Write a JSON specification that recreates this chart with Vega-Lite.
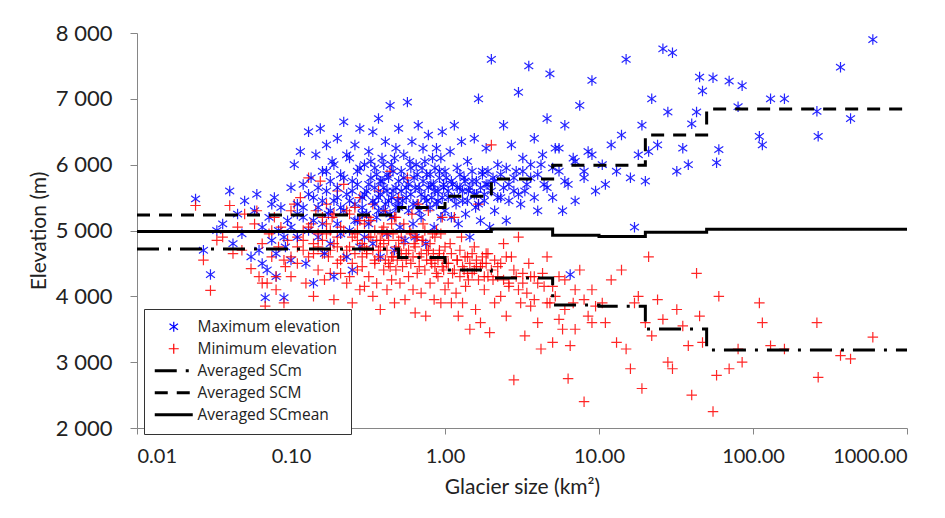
{
  "$schema": "https://vega.github.io/schema/vega-lite/v6.json",
  "width": 770,
  "height": 395,
  "autosize": {"type": "none"},
  "padding": {"left": 137, "top": 33, "right": 38, "bottom": 90},
  "background": "white",
  "config": {
    "view": {"stroke": null},
    "font": "Lato",
    "axis": {"grid": false, "domainColor": "#868686", "tickColor": "#868686", "labelColor": "#222", "titleColor": "#222", "labelFont": "Lato", "titleFont": "Lato", "titleFontWeight": "normal"}
  },
  "datasets": {
    "g": [
      {"a":0.024,"max":5480,"min":5380},{"a":0.027,"max":4700,"min":4550},{"a":0.03,"max":4330,"min":4090},{"a":0.033,"max":5000,"min":4850},
      {"a":0.036,"max":5100,"min":4900},{"a":0.04,"max":5600,"min":5380},{"a":0.042,"max":4800,"min":4650},{"a":0.045,"max":5250,"min":5050},
      {"a":0.048,"max":4950,"min":4700},{"a":0.05,"max":5450,"min":5250},{"a":0.055,"max":4600,"min":4420},{"a":0.058,"max":5300,"min":5100},
      {"a":0.06,"max":5550,"min":5300},{"a":0.062,"max":4700,"min":4300},{"a":0.065,"max":5050,"min":4800},{"a":0.068,"max":3980,"min":3850},
      {"a":0.07,"max":4400,"min":4200},{"a":0.072,"max":5200,"min":4950},{"a":0.075,"max":4850,"min":4600},{"a":0.078,"max":5500,"min":5200},
      {"a":0.08,"max":4300,"min":4100},{"a":0.083,"max":5000,"min":4750},{"a":0.086,"max":5350,"min":5050},{"a":0.09,"max":3980,"min":3900},
      {"a":0.092,"max":4750,"min":4450},{"a":0.095,"max":5150,"min":4850},{"a":0.1,"max":4550,"min":4300},{"a":0.1,"max":5650,"min":5300},
      {"a":0.105,"max":6000,"min":5400},{"a":0.11,"max":5400,"min":4900},{"a":0.11,"max":4900,"min":4500},{"a":0.115,"max":6200,"min":5500},
      {"a":0.12,"max":5200,"min":4700},{"a":0.12,"max":5700,"min":5000},{"a":0.125,"max":4500,"min":4200},{"a":0.13,"max":6500,"min":5800},
      {"a":0.13,"max":5000,"min":4600},{"a":0.135,"max":5800,"min":5100},{"a":0.14,"max":4200,"min":4000},{"a":0.14,"max":5500,"min":4800},
      {"a":0.145,"max":6150,"min":5300},{"a":0.15,"max":4900,"min":4400},{"a":0.15,"max":5350,"min":4750},{"a":0.155,"max":6550,"min":5750},
      {"a":0.16,"max":5100,"min":4650},{"a":0.16,"max":5900,"min":5200},{"a":0.165,"max":4650,"min":4250},{"a":0.17,"max":5600,"min":4950},
      {"a":0.17,"max":6300,"min":5400},{"a":0.175,"max":5250,"min":4600},{"a":0.18,"max":4800,"min":4350},{"a":0.18,"max":5750,"min":5000},
      {"a":0.185,"max":6050,"min":5200},{"a":0.19,"max":5450,"min":4800},{"a":0.19,"max":4300,"min":3950},{"a":0.2,"max":5100,"min":4500},
      {"a":0.2,"max":6400,"min":5600},{"a":0.2,"max":5650,"min":4900},{"a":0.21,"max":4950,"min":4350},{"a":0.21,"max":5850,"min":5050},
      {"a":0.22,"max":5300,"min":4600},{"a":0.22,"max":6650,"min":5700},{"a":0.23,"max":4600,"min":4200},{"a":0.23,"max":5550,"min":4700},
      {"a":0.24,"max":6100,"min":5250},{"a":0.24,"max":5000,"min":4300},{"a":0.25,"max":5750,"min":4900},{"a":0.25,"max":4400,"min":3900},
      {"a":0.26,"max":5400,"min":4650},{"a":0.26,"max":6300,"min":5350},{"a":0.27,"max":5150,"min":4400},{"a":0.27,"max":5900,"min":5000},
      {"a":0.28,"max":4750,"min":4100},{"a":0.28,"max":6550,"min":5500},{"a":0.29,"max":5500,"min":4600},{"a":0.29,"max":5250,"min":4800},
      {"a":0.3,"max":6000,"min":5100},{"a":0.3,"max":4900,"min":4150},
      {"a":0.31,"max":5600,"min":4700},{"a":0.32,"max":6200,"min":5200},{"a":0.32,"max":5100,"min":4300},{"a":0.33,"max":5800,"min":4900},
      {"a":0.34,"max":4800,"min":4000},{"a":0.34,"max":6500,"min":5400},{"a":0.35,"max":5400,"min":4500},{"a":0.35,"max":5950,"min":5000},
      {"a":0.36,"max":5200,"min":4200},{"a":0.37,"max":6700,"min":5600},{"a":0.37,"max":5500,"min":4700},{"a":0.38,"max":4600,"min":3800},
      {"a":0.38,"max":5750,"min":4850},{"a":0.39,"max":6100,"min":5000},{"a":0.4,"max":5300,"min":4400},{"a":0.4,"max":5650,"min":4800},
      {"a":0.41,"max":6350,"min":5300},{"a":0.42,"max":4950,"min":4100},{"a":0.42,"max":5850,"min":4950},{"a":0.43,"max":5450,"min":4500},
      {"a":0.44,"max":6900,"min":5900},{"a":0.45,"max":5200,"min":4250},{"a":0.45,"max":6000,"min":5100},{"a":0.46,"max":5600,"min":4600},
      {"a":0.47,"max":4700,"min":3900},{"a":0.48,"max":6250,"min":5200},{"a":0.48,"max":5350,"min":4400},{"a":0.5,"max":5750,"min":4700},
      {"a":0.5,"max":6550,"min":5500},{"a":0.51,"max":5050,"min":4200},{"a":0.52,"max":5900,"min":4900},{"a":0.53,"max":5450,"min":4450},
      {"a":0.54,"max":6150,"min":5100},{"a":0.55,"max":4850,"min":3950},{"a":0.56,"max":5650,"min":4650},{"a":0.57,"max":6950,"min":5800},
      {"a":0.58,"max":5300,"min":4300},{"a":0.59,"max":6050,"min":5000},{"a":0.6,"max":5550,"min":4500},{"a":0.61,"max":6350,"min":5250},
      {"a":0.62,"max":5100,"min":4100},{"a":0.63,"max":5800,"min":4800},{"a":0.64,"max":4900,"min":3750},{"a":0.65,"max":6000,"min":4900},
      {"a":0.66,"max":5400,"min":4350},{"a":0.67,"max":6600,"min":5400},{"a":0.68,"max":5650,"min":4600},{"a":0.7,"max":5200,"min":4050},
      {"a":0.71,"max":5950,"min":4850},{"a":0.72,"max":6250,"min":5100},{"a":0.74,"max":5500,"min":4400},{"a":0.75,"max":4800,"min":3700},
      {"a":0.76,"max":5850,"min":4700},{"a":0.78,"max":6450,"min":5300},{"a":0.8,"max":5350,"min":4200},{"a":0.81,"max":5700,"min":4550},
      {"a":0.83,"max":6100,"min":4950},{"a":0.85,"max":5050,"min":3950},{"a":0.86,"max":5600,"min":4450},{"a":0.88,"max":6250,"min":5000},
      {"a":0.9,"max":5450,"min":4300},{"a":0.92,"max":5900,"min":4700},{"a":0.94,"max":5200,"min":3900},{"a":0.96,"max":6500,"min":5200},
      {"a":0.98,"max":5650,"min":4400},{"a":1.0,"max":5300,"min":4100},
      {"a":1.02,"max":5800,"min":4500},{"a":1.05,"max":5500,"min":4200},{"a":1.08,"max":6200,"min":4800},{"a":1.1,"max":5200,"min":3900},
      {"a":1.12,"max":5700,"min":4350},{"a":1.15,"max":6600,"min":5200},{"a":1.18,"max":5400,"min":4050},{"a":1.2,"max":5950,"min":4550},
      {"a":1.22,"max":5100,"min":3700},{"a":1.25,"max":5650,"min":4300},{"a":1.28,"max":6350,"min":4900},{"a":1.3,"max":5450,"min":3900},
      {"a":1.33,"max":5800,"min":4400},{"a":1.36,"max":5250,"min":4150},{"a":1.4,"max":6050,"min":4600},{"a":1.42,"max":5600,"min":4250},
      {"a":1.45,"max":4900,"min":3500},{"a":1.5,"max":5750,"min":4350},{"a":1.55,"max":6400,"min":4750},{"a":1.58,"max":5350,"min":3800},
      {"a":1.6,"max":5550,"min":4450},{"a":1.65,"max":7000,"min":5400},{"a":1.7,"max":5150,"min":3600},{"a":1.75,"max":5900,"min":4500},
      {"a":1.8,"max":5450,"min":4100},{"a":1.85,"max":6250,"min":4650},{"a":1.9,"max":5700,"min":4300},{"a":1.95,"max":5050,"min":3450},
      {"a":2.0,"max":7600,"min":6300},{"a":2.05,"max":5800,"min":4250},{"a":2.1,"max":5300,"min":3900},{"a":2.2,"max":6000,"min":4450},
      {"a":2.3,"max":5500,"min":4000},{"a":2.4,"max":6600,"min":4800},{"a":2.5,"max":5150,"min":3700},{"a":2.6,"max":5700,"min":4200},
      {"a":2.7,"max":6300,"min":4600},{"a":2.8,"max":5600,"min":2730},{"a":2.9,"max":5900,"min":4300},{"a":3.0,"max":7100,"min":4900},
      {"a":3.1,"max":5400,"min":3900},{"a":3.2,"max":6100,"min":4200},{"a":3.3,"max":5600,"min":3400},{"a":3.5,"max":7500,"min":4500},
      {"a":3.6,"max":5800,"min":3850},{"a":3.8,"max":6400,"min":4300},{"a":4.0,"max":5300,"min":3600},{"a":4.2,"max":6000,"min":3200},
      {"a":4.4,"max":5700,"min":4150},{"a":4.6,"max":6700,"min":4600},{"a":4.8,"max":7380,"min":3900},{"a":5.0,"max":5500,"min":3300},
      {"a":5.2,"max":6250,"min":4000},{"a":5.5,"max":5900,"min":3650},{"a":5.8,"max":5300,"min":3500},{"a":6.0,"max":6600,"min":4250},
      {"a":6.3,"max":5700,"min":2750},{"a":6.5,"max":4330,"min":3250},{"a":6.8,"max":6100,"min":3900},{"a":7.0,"max":5450,"min":3500},
      {"a":7.5,"max":6900,"min":4400},{"a":8.0,"max":5800,"min":2400},{"a":8.5,"max":6200,"min":3700},{"a":9.0,"max":7280,"min":4100},
      {"a":9.5,"max":5600,"min":3850},
      {"a":10.5,"max":6000,"min":3900},{"a":11,"max":5700,"min":3600},{"a":12,"max":6300,"min":4250},{"a":13,"max":5900,"min":3300},
      {"a":14,"max":6450,"min":4400},{"a":15,"max":7600,"min":3200},{"a":16,"max":5800,"min":2900},{"a":17,"max":5050,"min":3900},
      {"a":18,"max":6150,"min":4000},{"a":19,"max":6600,"min":2600},{"a":20,"max":5750,"min":3600},{"a":21,"max":6200,"min":4600},
      {"a":22,"max":7000,"min":3400},{"a":24,"max":6300,"min":3950},{"a":26,"max":7760,"min":3650},{"a":28,"max":6800,"min":3000},
      {"a":30,"max":7700,"min":2900},{"a":32,"max":5900,"min":3800},{"a":35,"max":6250,"min":3550},{"a":38,"max":6000,"min":3250},
      {"a":40,"max":6620,"min":2500},{"a":43,"max":6800,"min":4350},{"a":45,"max":7330,"min":3700},{"a":47,"max":7120,"min":3300},
      {"a":55,"max":7320,"min":2250},{"a":58,"max":6030,"min":2800},{"a":60,"max":6230,"min":4000},{"a":70,"max":7270,"min":2900},
      {"a":80,"max":6880,"min":3200},{"a":85,"max":7200,"min":3000},{"a":110,"max":6430,"min":3900},{"a":115,"max":6300,"min":3600},
      {"a":130,"max":7000,"min":3250},{"a":160,"max":7000,"min":3200},{"a":260,"max":6810,"min":3600},{"a":265,"max":6430,"min":2770},
      {"a":370,"max":7480,"min":3100},{"a":430,"max":6700,"min":3050},{"a":600,"max":7900,"min":3380},
      {"a":0.15,"max":5650,"min":4950},{"a":0.16,"max":5450,"min":4850},{"a":0.17,"max":5900,"min":5100},{"a":0.18,"max":5300,"min":4700},
      {"a":0.19,"max":6000,"min":5250},{"a":0.2,"max":5500,"min":4750},{"a":0.21,"max":5350,"min":4550},{"a":0.22,"max":5800,"min":5000},
      {"a":0.23,"max":6150,"min":5300},{"a":0.24,"max":5450,"min":4750},{"a":0.25,"max":5600,"min":4500},{"a":0.26,"max":5150,"min":4950},
      {"a":0.27,"max":5700,"min":4850},{"a":0.28,"max":5950,"min":5150},{"a":0.29,"max":5350,"min":4450},{"a":0.3,"max":5550,"min":4750},
      {"a":0.31,"max":5250,"min":4650},{"a":0.32,"max":5700,"min":4900},{"a":0.33,"max":6050,"min":5150},{"a":0.34,"max":5450,"min":4700},
      {"a":0.35,"max":5650,"min":4550},{"a":0.36,"max":5850,"min":4850},{"a":0.37,"max":5300,"min":4600},{"a":0.38,"max":5550,"min":4750},
      {"a":0.39,"max":5750,"min":4950},{"a":0.4,"max":6000,"min":5050},{"a":0.41,"max":5400,"min":4550},{"a":0.42,"max":5600,"min":4700},
      {"a":0.43,"max":5800,"min":4850},{"a":0.44,"max":5250,"min":4450},{"a":0.45,"max":5500,"min":4600},{"a":0.46,"max":5900,"min":4950},
      {"a":0.47,"max":6100,"min":5200},{"a":0.48,"max":5650,"min":4750},{"a":0.49,"max":5450,"min":4550},{"a":0.5,"max":5350,"min":4850},
      {"a":0.52,"max":5600,"min":4650},{"a":0.54,"max":5800,"min":4800},{"a":0.56,"max":5500,"min":4550},{"a":0.58,"max":5700,"min":4700},
      {"a":0.6,"max":5950,"min":4950},{"a":0.62,"max":5400,"min":4600},{"a":0.64,"max":5650,"min":4750},{"a":0.66,"max":5850,"min":4900},
      {"a":0.68,"max":5300,"min":4450},{"a":0.7,"max":5550,"min":4650},{"a":0.72,"max":5750,"min":4850},{"a":0.74,"max":6050,"min":5000},
      {"a":0.76,"max":5450,"min":4550},{"a":0.78,"max":5650,"min":4700},{"a":0.8,"max":5850,"min":4800},{"a":0.82,"max":5500,"min":4500},
      {"a":0.84,"max":5700,"min":4650},{"a":0.86,"max":5950,"min":4900},{"a":0.88,"max":5400,"min":4350},{"a":0.9,"max":5600,"min":4550},
      {"a":0.92,"max":5800,"min":4650},{"a":0.94,"max":6100,"min":4950},{"a":0.96,"max":5500,"min":4450},{"a":0.98,"max":5700,"min":4600},
      {"a":1.0,"max":5900,"min":4750},{"a":1.05,"max":5600,"min":4500},{"a":1.1,"max":5750,"min":4650},{"a":1.15,"max":5500,"min":4400},
      {"a":1.2,"max":5650,"min":4550},{"a":1.25,"max":5850,"min":4700},{"a":1.3,"max":5600,"min":4450},{"a":1.35,"max":5750,"min":4600},
      {"a":1.4,"max":5450,"min":4350},{"a":1.45,"max":5650,"min":4500},{"a":1.5,"max":5900,"min":4650},{"a":1.55,"max":5550,"min":4400},
      {"a":1.6,"max":5750,"min":4550},{"a":1.65,"max":5400,"min":4250},{"a":1.7,"max":5650,"min":4450},{"a":1.75,"max":5850,"min":4600},
      {"a":1.8,"max":5550,"min":4300},{"a":1.85,"max":5700,"min":4500},{"a":1.9,"max":5900,"min":4650},{"a":2.0,"max":5600,"min":4400},
      {"a":2.1,"max":5750,"min":4550},{"a":2.2,"max":5500,"min":4300},{"a":2.3,"max":5850,"min":4500},{"a":2.4,"max":5650,"min":4250},
      {"a":2.5,"max":5950,"min":4600},{"a":2.6,"max":5450,"min":4150},{"a":2.8,"max":5800,"min":4400},{"a":3.0,"max":5550,"min":4100},
      {"a":3.2,"max":5900,"min":4350},{"a":3.4,"max":5700,"min":4050},{"a":3.6,"max":6000,"min":4300},{"a":3.8,"max":5500,"min":3950},
      {"a":4.0,"max":5850,"min":4200},{"a":4.3,"max":6150,"min":4350},{"a":4.6,"max":5650,"min":3900},{"a":5.0,"max":5950,"min":4150},
      {"a":5.5,"max":6250,"min":4300},{"a":6.0,"max":5750,"min":3800},{"a":7.0,"max":6050,"min":4100},{"a":8.0,"max":5900,"min":3950},
      {"a":9.0,"max":6150,"min":3600},{"a":0.12,"max":5350,"min":4850},{"a":0.13,"max":5550,"min":5050},{"a":0.14,"max":5150,"min":4650},
      {"a":0.11,"max":5250,"min":4750},{"a":0.1,"max":5050,"min":4600},{"a":0.09,"max":4900,"min":4550},{"a":0.08,"max":4650,"min":4300},
      {"a":0.075,"max":5400,"min":5000},{"a":0.065,"max":4500,"min":4200}
    ],
    "steps": [
      {"s":"SCm","a":0.01,"e":4720},{"s":"SCm","a":0.5,"e":4590},{"s":"SCm","a":1,"e":4400},{"s":"SCm","a":2,"e":4280},
      {"s":"SCm","a":5,"e":3870},{"s":"SCm","a":10,"e":3850},{"s":"SCm","a":20,"e":3505},{"s":"SCm","a":50,"e":3185},{"s":"SCm","a":1000,"e":3185},
      {"s":"SCM","a":0.01,"e":5237},{"s":"SCM","a":0.5,"e":5350},{"s":"SCM","a":1,"e":5520},{"s":"SCM","a":2,"e":5784},
      {"s":"SCM","a":5,"e":5990},{"s":"SCM","a":10,"e":5990},{"s":"SCM","a":20,"e":6450},{"s":"SCM","a":50,"e":6845},{"s":"SCM","a":1000,"e":6845},
      {"s":"SCmean","a":0.01,"e":4985},{"s":"SCmean","a":0.5,"e":4985},{"s":"SCmean","a":1,"e":4985},{"s":"SCmean","a":2,"e":5024},
      {"s":"SCmean","a":5,"e":4926},{"s":"SCmean","a":10,"e":4909},{"s":"SCmean","a":20,"e":4974},{"s":"SCmean","a":50,"e":5020},{"s":"SCmean","a":1000,"e":5020}
    ]
  },
  "encoding": {
    "x": {"field": "a", "type": "quantitative",
      "scale": {"type": "log", "domain": [0.01, 1000], "nice": false},
      "axis": {"values": [0.01, 0.1, 1, 10, 100, 1000], "format": ".2f", "title": "Glacier size (km²)", "labelFontSize": 20, "titleFontSize": 21, "tickSize": 6, "labelPadding": 12, "titlePadding": 10}},
    "y": {"field": "e", "type": "quantitative",
      "scale": {"domain": [2000, 8000], "nice": false},
      "axis": {"values": [2000, 3000, 4000, 5000, 6000, 7000, 8000], "labelExpr": "replace(format(datum.value, ','), ',', ' ')", "title": "Elevation (m)", "labelFontSize": 22, "titleFontSize": 21, "tickSize": 7, "labelPadding": 18, "titlePadding": 6}}
  },
  "layer": [
    {
      "data": {"name": "g"},
      "transform": [{"fold": ["max", "min"], "as": ["s", "e"]}],
      "mark": {"type": "point", "filled": false, "size": 110, "opacity": 0.85, "strokeWidth": 1.2},
      "encoding": {
        "color": {"field": "s", "type": "nominal", "scale": {"domain": ["max", "min", "SCm", "SCM", "SCmean"], "range": ["#0000ff", "#ff0000", "#000000", "#000000", "#000000"]},
          "legend": {"orient": "none", "legendX": 7, "legendY": 276, "title": null, "labelExpr": "datum.label == 'max' ? 'Maximum elevation' : datum.label == 'min' ? 'Minimum elevation' : 'Averaged ' + datum.label", "labelFontSize": 15.5, "labelFont": "Open Sans", "labelColor": "#222", "symbolSize": 100, "symbolOffset": 12, "labelOffset": 16, "rowPadding": 5, "padding": 10, "strokeColor": "#333", "fillColor": "white", "symbolOpacity": 1, "symbolStrokeWidth": 1.2}},
        "shape": {"field": "s", "type": "nominal", "scale": {"domain": ["max", "min", "SCm", "SCM", "SCmean"], "range": ["M0,-1L0,1M-0.85,-0.6L0.85,0.6M-0.85,0.6L0.85,-0.6", "M-1,0L1,0M0,-1L0,1", "M-3.8,-0.2L3.8,-0.2M-3.8,0L3.8,0M-3.8,0.2L3.8,0.2", "M-3.8,-0.2L3.8,-0.2M-3.8,0L3.8,0M-3.8,0.2L3.8,0.2", "M-3.8,-0.2L3.8,-0.2M-3.8,0L3.8,0M-3.8,0.2L3.8,0.2"]}},
        "strokeDash": {"field": "s", "type": "nominal", "scale": {"domain": ["max", "min", "SCm", "SCM", "SCmean"], "range": [[1, 0], [1, 0], [22, 9, 3, 9], [13, 9], [1, 0]]}}
      }
    },
    {
      "data": {"name": "steps"},
      "mark": {"type": "line", "interpolate": "step-after", "strokeCap": "butt", "strokeWidth": 3},
      "encoding": {
        "color": {"field": "s", "type": "nominal"},
        "strokeDash": {"field": "s", "type": "nominal"}
      }
    }
  ]
}
